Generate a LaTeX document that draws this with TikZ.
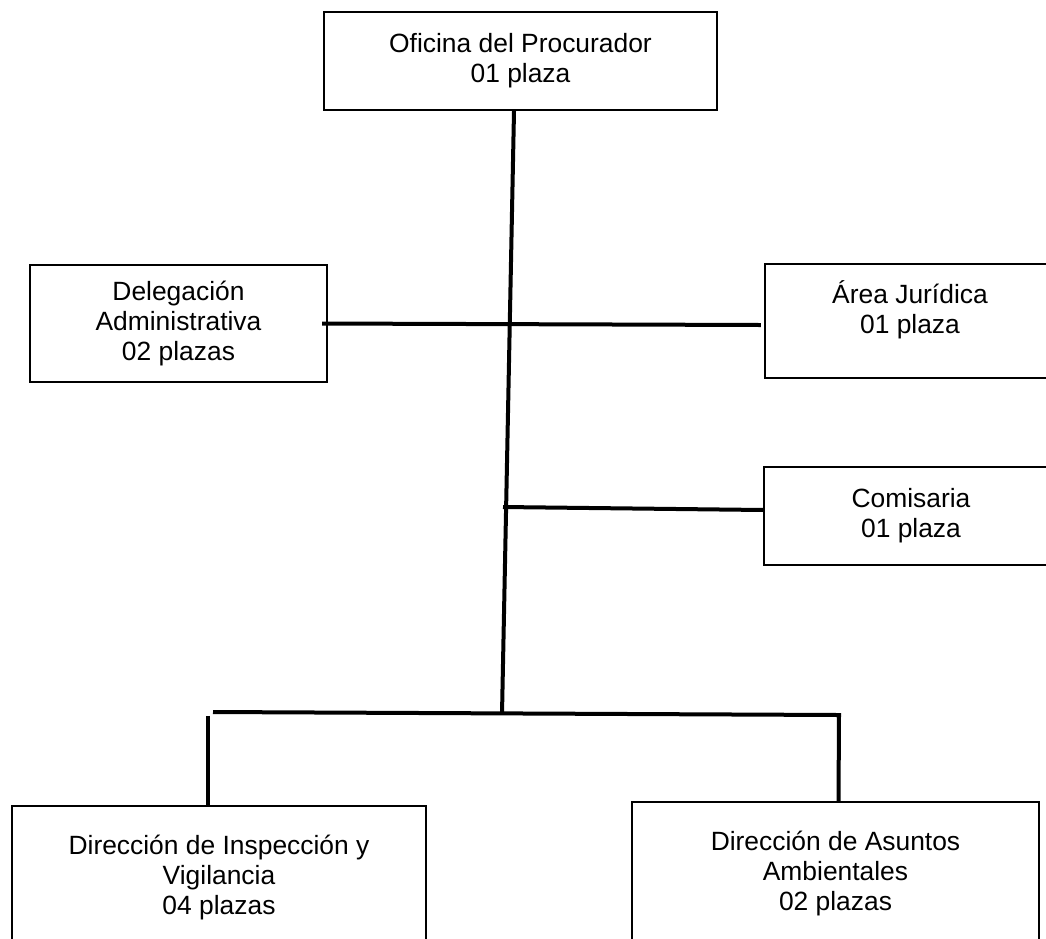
\documentclass[tikz,border=0pt]{standalone}
\usepackage{fontspec}
\setmainfont{Liberation Sans}
\begin{document}
\begin{tikzpicture}[x=1pt,y=-1pt,
  box/.style={draw=black, line width=2.1pt, rectangle, inner sep=0pt, align=center,
              font=\fontsize{26.4}{30}\selectfont},
  conn/.style={draw=black, line width=4pt}]
\useasboundingbox (0,0) rectangle (1046,938);
\clip (0,0) rectangle (1046,938);
\fill[white] (0,0) rectangle (1046,938);

\node[box, minimum width=393pt, minimum height=98pt] (top) at (520.5,61)
  {Oficina del Procurador\\01 plaza};
\node[box, minimum width=297pt, minimum height=117pt] (deleg) at (178.5,323.5)
  {Delegación\\Administrativa\\02 plazas};
\node[box, minimum width=290pt, minimum height=114pt] (area) at (910,321)
  {Área Jurídica\\01 plaza\\[-3pt]\mbox{}};
\node[box, minimum width=294pt, minimum height=98pt] (comis) at (911,516)
  {Comisaria\\01 plaza};
\node[box, minimum width=414pt, minimum height=144pt] (dirinsp) at (219,878)
  {Dirección de Inspección y\\Vigilancia\\04 plazas};
\node[box, minimum width=407pt, minimum height=144pt] (dirasun) at (835.5,874)
  {Dirección de Asuntos\\Ambientales\\02 plazas};

\coordinate (jt) at (502,714);
\coordinate (j2) at (503,507);
\coordinate (bl) at (213,712);
\coordinate (br) at (839,715);

\draw[conn] ([shift={(-6.5,0)}]top.south) -- (jt);
\draw[conn] ([shift={(-6,0)}]deleg.east) -- ([shift={(-3,4)}]area.west);
\draw[conn] (j2) -- ([shift={(1,-6)}]comis.west);
\draw[conn] (bl) -- (br) -- ([shift={(3,0)}]dirasun.north);
\draw[conn] ([shift={(-11,-89)}]dirinsp.north) -- ([shift={(-11,0)}]dirinsp.north);
\end{tikzpicture}
\end{document}
